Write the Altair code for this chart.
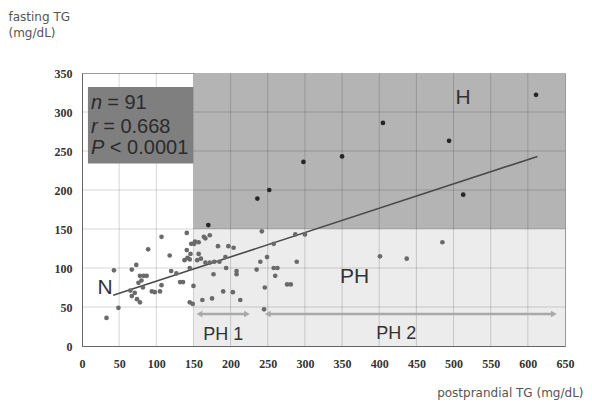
import altair as alt
import pandas as pd

# ---- data ----
# H region (fasting TG >= 150)
h_x = [170, 236, 252, 298, 350, 405, 494, 513, 611]
h_y = [155, 189, 200, 236, 243, 286, 263, 194, 322]

# PH region (postprandial >= 150, fasting < 150)
ph_x = [149, 150, 151, 152, 157, 164, 166, 172, 183, 197, 204, 157, 166, 172, 178,
        193, 177, 194, 208, 208, 249, 240, 235, 258, 263, 260, 289, 276, 281, 246,
        190, 203, 162, 175, 213, 245, 258, 287, 300, 242, 401, 437, 485, 155, 160,
        185]
ph_y = [54, 77, 131, 134, 133, 140, 138, 142, 128, 128, 126, 118, 107, 107, 108,
        114, 92, 100, 96, 92, 114, 108, 98, 100, 100, 90, 108, 79, 79, 75,
        70, 69, 59, 61, 59, 47, 131, 143, 143, 147, 115, 112, 133, 110, 112,
        108]

# N region
n_x = [33, 49, 43, 67, 73, 89, 107, 118, 127, 132, 136, 141, 147, 141, 138, 145, 142,
       145, 78, 83, 87, 80, 76, 82, 65, 67, 74, 78, 71, 94, 98, 105, 107, 145, 146, 120]
n_y = [36, 49, 97, 98, 104, 124, 140, 116, 93, 82, 82, 123, 131, 145, 110, 111, 113,
       100, 90, 90, 90, 84, 81, 75, 71, 64, 60, 56, 68, 70, 69, 70, 78, 56, 118, 96]

# regression line end points
fit_x = [42, 613]
fit_y = [65, 243]

x_ticks = [0, 50, 100, 150, 200, 250, 300, 350, 400, 450, 500, 550, 600, 650]
y_ticks = [0, 50, 100, 150, 200, 250, 300, 350]

stat_sym = ["n", "r", "P"]
stat_rest = ["= 91", "= 0.668", "< 0.0001"]

region_labels = ["H", "PH", "N"]
range_labels = ["PH 1", "PH 2"]

# ---- tables ----
pts = pd.DataFrame({
    "x": h_x + ph_x + n_x,
    "y": h_y + ph_y + n_y,
})
fit = pd.DataFrame({"x": fit_x, "y": fit_y})

xs = alt.Scale(domain=[0, 650], nice=False, zero=False)
ys = alt.Scale(domain=[0, 350], nice=False, zero=False)

AX = alt.Axis(values=x_ticks, title="postprandial TG (mg/dL)",
              titleX=501, titleY=53, titleAlign="right",
              titleBaseline="bottom", titleFont="DejaVu Sans",
              titleFontSize=12, titleFontWeight="normal",
              titleColor="#555555", labelOverlap=False, labelFlush=False,
              labelPadding=12, ticks=False, grid=False)
AY = alt.Axis(values=y_ticks, title=["fasting TG", "(mg/dL)"],
              titleAngle=0, titleX=-74, titleY=-62,
              titleAlign="left", titleBaseline="top",
              titleFont="DejaVu Sans", titleFontSize=12,
              titleFontWeight="normal", titleColor="#555555",
              titleLineHeight=16, labelOverlap=False, labelFlush=False,
              labelPadding=10, ticks=False, grid=False)


def X(f):
    return alt.X(f, type="quantitative", scale=xs, axis=AX)


def Y(f):
    return alt.Y(f, type="quantitative", scale=ys, axis=AY)


bg = pd.DataFrame({
    "x1": [150, 150], "x2": [650, 650],
    "y1": [0, 150], "y2": [150, 350],
    "fill": ["#ececec", "#b4b4b4"],
})
bg_layer = alt.Chart(bg).mark_rect().encode(
    x=X("x1"), x2="x2", y=Y("y1"), y2="y2",
    color=alt.Color("fill:N", scale=None),
)

vgrid = alt.Chart(pd.DataFrame({"g": x_ticks[1:-1]})).mark_rule(
    color="#000000", opacity=0.16, strokeWidth=1).encode(x=X("g"))
hgrid = alt.Chart(pd.DataFrame({"g": y_ticks[1:-1]})).mark_rule(
    color="#000000", opacity=0.16, strokeWidth=1).encode(y=Y("g"))

box = pd.DataFrame({"x1": [8], "x2": [150], "y1": [234], "y2": [332]})
box_layer = alt.Chart(box).mark_rect(color="#7f7f7f").encode(
    x=X("x1"), x2="x2", y=Y("y1"), y2="y2")

fit_layer = alt.Chart(fit).mark_line(color="#4a4a4a", strokeWidth=1.6).encode(
    x=X("x"), y=Y("y"))

pt_layer = alt.Chart(pts).mark_circle(size=22, opacity=1).encode(
    x=X("x"), y=Y("y"),
    color=alt.condition("datum.y >= 150", alt.value("#262626"), alt.value("#6a6a6a")),
)

# arrows for PH 1 and PH 2 ranges
arr = pd.DataFrame({"x1": [158, 250], "x2": [222, 635], "y": [41, 41]})
arr_rule = alt.Chart(arr).mark_rule(color="#a9a9a9", strokeWidth=2.5).encode(
    x=X("x1"), x2="x2", y=Y("y"))
heads = pd.DataFrame({
    "x": [158, 222, 250, 635], "y": [41, 41, 41, 41],
    "shape": ["triangle-left", "triangle-right", "triangle-left", "triangle-right"],
})
arr_heads = alt.Chart(heads).mark_point(filled=True, size=45, color="#a9a9a9",
                                        opacity=1).encode(
    x=X("x"), y=Y("y"),
    shape=alt.Shape("shape:N", scale=None))

# statistics text
stats = pd.DataFrame({
    "sym": stat_sym, "rest": stat_rest,
    "x": [12, 12, 12], "xr": [34, 28.5, 37.5],
    "y": [311, 281, 254],
})
stat_sym_layer = alt.Chart(stats).mark_text(
    font="Liberation Sans", fontSize=20, fontStyle="italic", color="#2b2b2b",
    align="left", baseline="middle").encode(
    x=X("x"), y=Y("y"), text="sym:N")
stat_rest_layer = alt.Chart(stats).mark_text(
    font="Liberation Sans", fontSize=20, color="#2b2b2b",
    align="left", baseline="middle").encode(
    x=X("xr"), y=Y("y"), text="rest:N")

reg = pd.DataFrame({"t": region_labels, "x": [513, 367, 31], "y": [318, 88, 74]})
reg_layer = alt.Chart(reg).mark_text(
    font="Liberation Sans", fontSize=21, color="#333333",
    align="center", baseline="middle").encode(
    x=X("x"), y=Y("y"), text="t:N")

rng = pd.DataFrame({"t": range_labels, "x": [190, 423], "y": [14, 15]})
rng_layer = alt.Chart(rng).mark_text(
    font="Liberation Sans", fontSize=18, color="#333333",
    align="center", baseline="middle").encode(
    x=X("x"), y=Y("y"), text="t:N")

chart = alt.layer(
    bg_layer, vgrid, hgrid, box_layer, arr_rule, arr_heads, fit_layer, pt_layer,
    stat_sym_layer, stat_rest_layer, reg_layer, rng_layer,
).properties(
    width=483, height=273,
    autosize=alt.AutoSizeParams(type="none"),
    padding={"left": 74, "top": 65, "right": 19, "bottom": 54},
).configure_view(
    stroke="#9a9a9a", strokeWidth=1,
).configure_axis(
    labelFont="Liberation Serif", labelFontWeight="bold", labelFontSize=12,
    labelColor="#333333", domainColor="#666666",
)

chart.save("out.html", embed_options={"renderer": "svg", "actions": False})
